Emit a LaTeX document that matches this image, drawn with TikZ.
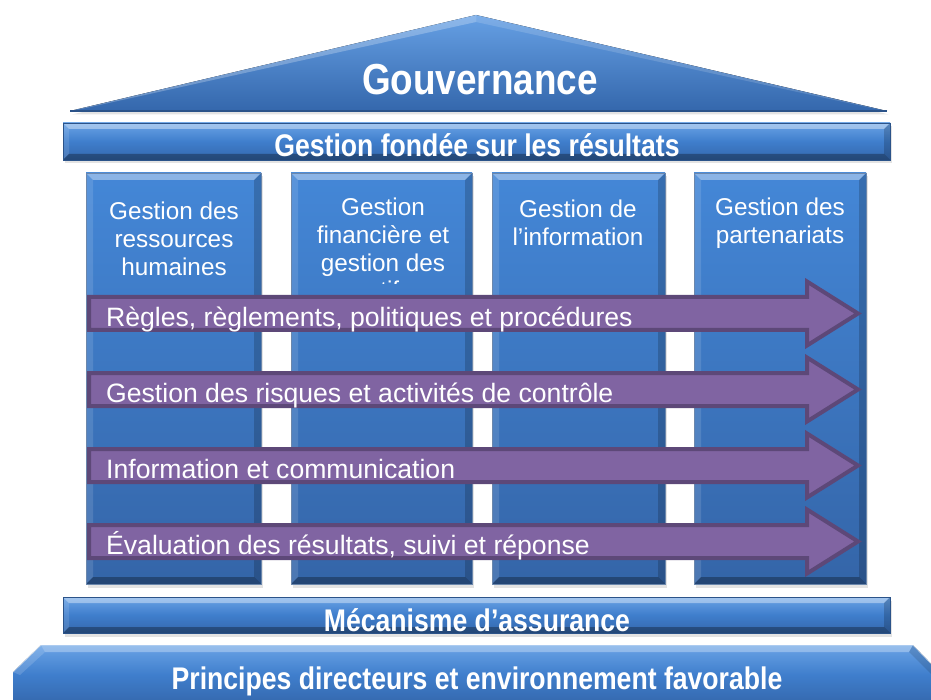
\documentclass[tikz,border=0pt]{standalone}
\usepackage{fontspec}
\setmainfont{Liberation Sans}
\newfontfamily\condfont[FakeStretch=0.85]{Liberation Sans}
\usetikzlibrary{shadows}

\definecolor{colTop}{HTML}{4487D7}
\definecolor{colBot}{HTML}{3465A8}
\definecolor{barTop}{HTML}{6AA3E6}
\definecolor{barMid}{HTML}{3F7ECC}
\definecolor{barBot}{HTML}{3467AC}
\definecolor{blueEdge}{HTML}{2B5389}
\definecolor{flowFill}{HTML}{8064A2}
\definecolor{flowLine}{HTML}{5D4878}

\tikzset{
  % raised-panel look: light top/left facets, dark right/bottom facets
  bevel/.style={path picture={
      \coordinate (bsw) at (path picture bounding box.south west);
      \coordinate (bne) at (path picture bounding box.north east);
      \coordinate (bnw) at (path picture bounding box.north west);
      \coordinate (bse) at (path picture bounding box.south east);
      \fill[white,opacity=.38] (bnw) -- (bne) -- ([xshift=-#1,yshift=-#1]bne) -- ([xshift=#1,yshift=-#1]bnw) -- cycle;
      \fill[white,opacity=.12] (bnw) -- ([xshift=#1,yshift=-#1]bnw) -- ([xshift=#1,yshift=#1]bsw) -- (bsw) -- cycle;
      \fill[black,opacity=.18] (bne) -- (bse) -- ([xshift=-#1,yshift=#1]bse) -- ([xshift=-#1,yshift=-#1]bne) -- cycle;
      \fill[black,opacity=.30] (bsw) -- ([xshift=#1,yshift=#1]bsw) -- ([xshift=-#1,yshift=#1]bse) -- (bse) -- cycle;
  }},
  softshadow/.style={drop shadow={opacity=.22,shadow xshift=2pt,shadow yshift=-3.5pt}},
  column/.style={rectangle, inner sep=0pt, outer sep=0pt,
      top color=colTop, bottom color=colBot, draw=blueEdge!70, line width=.5pt,
      minimum height=411pt, softshadow, bevel=7pt},
  bar/.style={rectangle, inner sep=0pt, outer sep=0pt,
      top color=barTop, bottom color=barBot, middle color=barMid,
      draw=blueEdge, line width=.6pt, minimum width=827pt, softshadow, bevel=6pt},
  coltext/.style={anchor=north, inner sep=0pt, align=center, text=white,
      font=\fontsize{24.3pt}{27.6pt}\selectfont},
  headtext/.style={anchor=base, inner sep=0pt, text=white,
      font=\condfont\bfseries\fontsize{31.3pt}{34pt}\selectfont},
  flow/.style={fill=flowFill, draw=flowLine, line width=4pt, line join=miter},
  flowtext/.style={anchor=base west, inner sep=0pt, text=white,
      font=\fontsize{26.6pt}{30pt}\selectfont},
}

\begin{document}
\begin{tikzpicture}[x=1pt,y=-1pt]
\clip (0,0) rectangle (931,700);
\fill[white] (0,0) rectangle (931,700);

% roof
\coordinate (apex) at (476,15);
\coordinate (eaveL) at (70,111);
\coordinate (eaveR) at (887,111);
\fill[softshadow, top color=barTop!90!colTop, bottom color=barBot] (apex) -- (eaveR) -- (eaveL) -- cycle;
\fill[white,opacity=.25] (apex) -- (eaveL) -- (86,108) -- (476,22) -- cycle;
\fill[white,opacity=.15] (apex) -- (eaveR) -- (871,108) -- (476,22) -- cycle;
\draw[blueEdge, line width=1.5pt] (eaveL) -- (eaveR);
\node[anchor=base, inner sep=0pt, text=white,
      font=\condfont\bfseries\fontsize{43.4pt}{46pt}\selectfont] (gov) at (480,95) {Gouvernance};

% beam
\node[bar, minimum height=37pt] (rbm) at (476.5,141.5) {};
\node[headtext] (rbmtext) at (477,157) {Gestion fondée sur les résultats};

% pillars
\node[column, minimum width=175pt] (c1) at (173.5,378.5) {};
\node[column, minimum width=181pt] (c2) at (381.5,378.5) {};
\node[column, minimum width=173pt] (c3) at (578.5,378.5) {};
\node[column, minimum width=172pt] (c4) at (780,378.5) {};

\node[coltext] (c1text) at (174,202) {Gestion des\\ressources\\humaines};
\begin{scope}
  \clip (291,173) rectangle (472,284);
  \node[coltext] (c2text) at (383,198) {Gestion\\financière et\\gestion des\\actifs};
\end{scope}
\node[coltext] (c3text) at (578,200) {Gestion de\\l’information};
\node[coltext] (c4text) at (780,198) {Gestion des\\partenariats};

% cross-cutting processes
\foreach \yc/\nm/\lbl in {313.5/rules/{Règles, règlements, politiques et procédures},
                        389.5/risks/{Gestion des risques et activités de contrôle},
                        465.5/comm/{Information et communication},
                        541.5/evaluation/{Évaluation des résultats, suivi et réponse}}{
  \draw[flow] (89,\yc-16.5) -- (807,\yc-16.5) -- (807,\yc-32) -- (858,\yc)
              -- (807,\yc+32) -- (807,\yc+16.5) -- (89,\yc+16.5) -- cycle;
  \node[flowtext] (\nm) at (106,\yc+13) {\lbl};
}

% assurance beam
\node[bar, minimum height=36pt] (assur) at (476.5,615) {};
\node[headtext] (assurtext) at (477,631) {Mécanisme d’assurance};

% foundation
\coordinate (fL) at (13,705);
\coordinate (fLm) at (13,672);
\coordinate (fTL) at (41,645);
\coordinate (fTR) at (913,645);
\coordinate (fRm) at (942,675);
\coordinate (fR) at (942,705);
\fill[top color=barTop, bottom color=barBot, middle color=barMid]
  (fL) -- (fLm) -- (fTL) -- (fTR) -- (fRm) -- (fR) -- cycle;
\fill[white,opacity=.3] (fTL) -- (fTR) -- (909,652) -- (45,652) -- cycle;
\fill[white,opacity=.15] (fLm) -- (fTL) -- (45,652) -- (20,675) -- cycle;
\fill[black,opacity=.12] (fTR) -- (fRm) -- (935,678) -- (909,652) -- cycle;
\draw[white,opacity=.6,line width=.8pt] (fLm) -- (fTL) -- (fTR) -- (fRm);
\node[headtext] (found) at (477,689) {Principes directeurs et environnement favorable};
\end{tikzpicture}
\end{document}
